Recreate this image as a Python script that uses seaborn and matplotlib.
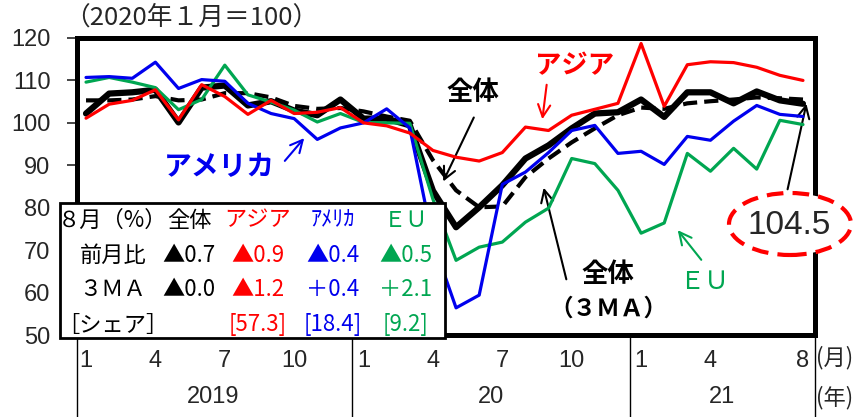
import matplotlib
matplotlib.use("Agg")
import matplotlib.pyplot as plt
import matplotlib.transforms as mtransforms
from matplotlib.patches import Rectangle, Ellipse
import seaborn as sns
import numpy as np
import pandas as pd

# monthly index, 2019/1 .. 2021/8 (2020/1 = 100)
months = list(range(32))
total = [102.2, 106.9, 107.2, 107.8, 100.1, 108.3, 108.8, 104.1, 105.1, 102.9, 101.8, 105.5,
         101.0, 101.0, 99.4, 84.0, 75.4, 80.1, 85.3, 91.6, 94.7, 98.7, 102.2, 102.5,
         105.5, 101.4, 107.2, 107.2, 104.6, 107.4, 105.3, 104.5]
total_3ma = [105.3, 105.3, 105.5, 106.3, 105.3, 105.5, 107.0, 107.0, 106.0, 104.0, 103.3, 103.5,
             102.7, 101.5, 100.5, 91.2, 84.1, 80.1, 80.3, 87.2, 91.6, 95.4, 98.7, 101.8,
             103.6, 103.3, 104.6, 105.1, 105.5, 106.0, 105.8, 105.5]
asia = [101.1, 104.4, 105.3, 107.8, 100.7, 109.0, 106.2, 102.0, 105.3, 102.2, 102.5, 103.6,
        100.0, 99.3, 97.6, 93.5, 91.9, 91.0, 93.0, 99.0, 98.2, 101.8, 103.2, 104.6,
        118.7, 103.9, 113.7, 114.4, 114.2, 113.1, 111.2, 110.0]
usa = [110.7, 110.9, 110.5, 114.3, 108.1, 110.2, 109.8, 104.6, 102.2, 101.0, 96.1, 98.8,
       100.0, 103.3, 98.8, 72.0, 56.4, 59.4, 85.5, 88.4, 93.0, 98.2, 99.4, 92.8,
       93.3, 90.2, 96.8, 95.9, 100.4, 104.1, 102.0, 101.5]
eu = [109.6, 110.7, 109.6, 108.3, 103.1, 105.5, 113.6, 106.6, 104.9, 103.0, 100.2, 102.2,
      100.1, 100.0, 99.9, 82.0, 67.6, 70.7, 71.9, 76.6, 79.9, 91.6, 90.4, 84.1,
      74.0, 76.4, 92.8, 88.6, 94.0, 89.1, 100.6, 99.6]

tick_pos = [0, 3, 6, 9, 12, 15, 18, 21, 24, 27, 31]
tick_labels = ["1", "4", "7", "10", "1", "4", "7", "10", "1", "4", "8"]
years = ["2019", "20", "21"]
year_centers = [5.5, 17.5, 27.5]
year_breaks = [11.5, 23.5]

# summary table
tbl_header = ["８月（%）", "全体", "アジア", "ｱﾒﾘｶ", "ＥＵ"]
tbl_mom = ["前月比", "▲0.7", "▲0.9", "▲0.4", "▲0.5"]
tbl_3ma = ["３ＭＡ", "▲0.0", "▲1.2", "＋0.4", "＋2.1"]
tbl_share = ["［シェア］", "", "[57.3]", "[18.4]", "[9.2]"]

RED = "#ff0000"
BLUE = "#0000ee"
GREEN = "#00a651"

sns.set_style("white")
plt.rcParams["font.family"] = ["Liberation Sans", "Noto Sans CJK JP", "DejaVu Sans"]
JP = ["Noto Sans CJK JP", "DejaVu Sans"]

W, H = 863, 417
fig = plt.figure(figsize=(W / 100, H / 100), dpi=100)
ax = fig.add_axes([77 / W, 1 - 335 / H, (815 - 77) / W, (335 - 38) / H])


def px(x, y):
    return (x / W, 1 - y / H)


df = pd.DataFrame({"month": months, "total": total, "total_3ma": total_3ma,
                   "asia": asia, "usa": usa, "eu": eu})

sns.lineplot(data=df, x="month", y="total_3ma", ax=ax, color="black", lw=3.0,
             dashes=False, linestyle=(0, (3.4, 1.7)), zorder=2)
sns.lineplot(data=df, x="month", y="total", ax=ax, color="black", lw=4.5, zorder=3)
sns.lineplot(data=df, x="month", y="eu", ax=ax, color=GREEN, lw=2.3, zorder=4)
sns.lineplot(data=df, x="month", y="usa", ax=ax, color=BLUE, lw=2.3, zorder=5)
sns.lineplot(data=df, x="month", y="asia", ax=ax, color=RED, lw=2.3, zorder=6)

ax.set_xlim(-0.39, 31.52)
ax.set_ylim(50, 120)
ax.set_xlabel("")
ax.set_ylabel("")
ax.set_yticks(range(50, 121, 10))
ax.set_xticks(tick_pos)
ax.set_xticklabels(tick_labels)
ax.tick_params(axis="y", direction="out", length=7, width=1.2, pad=12, labelsize=17, left=True)
ax.tick_params(axis="x", length=0, pad=11, labelsize=17)
for sp in ax.spines.values():
    sp.set_linewidth(3.6)
    sp.set_color("black")

trans = mtransforms.blended_transform_factory(ax.transData, ax.transAxes)
for xb in [-0.39] + year_breaks + [31.52]:
    ax.plot([xb, xb], [0, -0.28], transform=trans, color="black", lw=1, clip_on=False)
for xc, yr in zip(year_centers, years):
    ax.text(xc, -0.21, yr, transform=trans, ha="center", va="center", fontsize=17)

fig.text(*px(816, 358), "(月)", ha="left", va="center", fontsize=16, family=JP)
fig.text(*px(816, 398), "(年)", ha="left", va="center", fontsize=16, family=JP)
fig.text(*px(64, 18), "（2020年１月＝100）", ha="left", va="center", fontsize=18.5, family=JP)

# annotations
arrow = dict(arrowstyle="->", lw=1.5, mutation_scale=22)
fig.text(*px(219, 167), "アメリカ", color=BLUE, fontsize=20, fontweight="bold",
         ha="center", va="center", family=JP)
ax.annotate("", xy=px(306, 136), xytext=px(283, 163), xycoords="figure fraction",
            arrowprops=dict(arrow, color=BLUE))
fig.text(*px(473, 92), "全体", color="black", fontsize=19, fontweight="bold",
         ha="center", va="center", family=JP)
ax.annotate("", xy=px(442, 184), xytext=px(475, 115), xycoords="figure fraction",
            arrowprops=dict(arrow, color="black"))
fig.text(*px(575, 66), "アジア", color=RED, fontsize=19, fontweight="bold",
         ha="center", va="center", family=JP)
ax.annotate("", xy=px(542, 122), xytext=px(547, 82), xycoords="figure fraction",
            arrowprops=dict(arrow, color=RED))
fig.text(*px(608, 274), "全体", color="black", fontsize=19, fontweight="bold",
         ha="center", va="center", family=JP)
fig.text(*px(608, 309), "（３ＭＡ）", color="black", fontsize=17, fontweight="bold",
         ha="center", va="center", family=JP)
ax.annotate("", xy=px(543, 185), xytext=px(567, 282), xycoords="figure fraction",
            arrowprops=dict(arrow, color="black"))
fig.text(*px(704, 282), "ＥＵ", color=GREEN, fontsize=18, ha="center", va="center", family=JP)
ax.annotate("", xy=px(676, 228), xytext=px(703, 262), xycoords="figure fraction",
            arrowprops=dict(arrow, color=GREEN))

ell = Ellipse(px(790, 224), 122 / W, 62 / H, transform=fig.transFigure, fill=True,
              facecolor="white", edgecolor=RED, lw=3, linestyle=(0, (4, 2.2)), zorder=5)
fig.add_artist(ell)
fig.text(*px(789, 225), "104.5", fontsize=24, ha="center", va="center", zorder=6)
ax.annotate("", xy=px(807, 101), xytext=px(787, 192), xycoords="figure fraction",
            arrowprops=dict(arrowstyle="->", lw=1.5, mutation_scale=22, color="black"))

# table box
box = Rectangle(px(60, 338), (445 - 60) / W, (338 - 203) / H, transform=fig.transFigure,
                facecolor="white", edgecolor="black", lw=2, zorder=5)
fig.add_artist(box)
col_x = [113, 189, 258, 333, 406]
row_y = [220, 255, 290, 325]
col_colors = ["black", "black", RED, BLUE, GREEN]
for ry, row in zip(row_y, [tbl_header, tbl_mom, tbl_3ma, tbl_share]):
    for j, (cx, txt) in enumerate(zip(col_x, row)):
        if not txt:
            continue
        fig.text(*px(cx, ry), txt, color=col_colors[j], fontsize=16, ha="center",
                 va="center", family=JP, zorder=6)

fig.savefig("out.png", dpi=100)
